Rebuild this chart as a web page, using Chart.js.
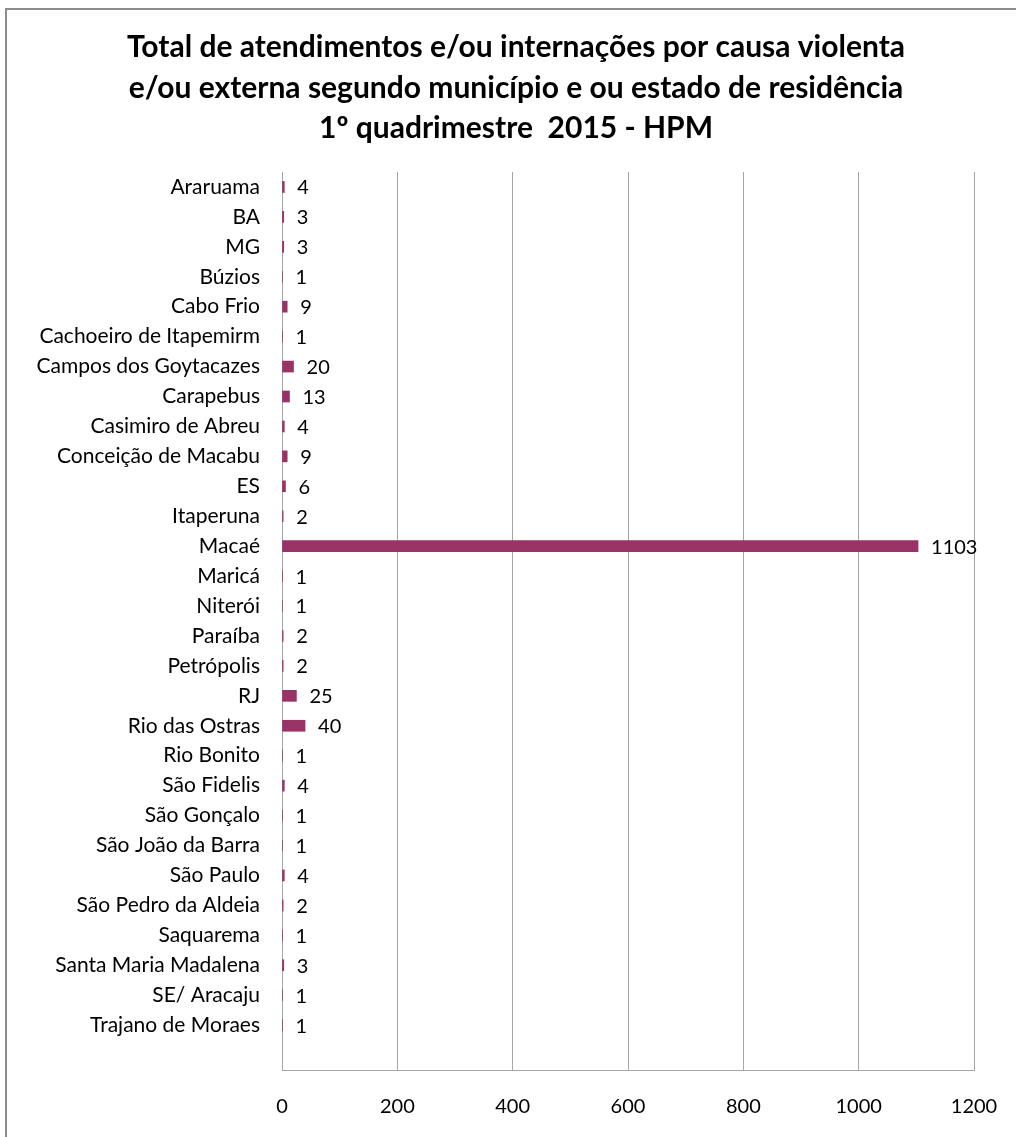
<!DOCTYPE html>
<html>
<head>
<meta charset="utf-8">
<script src="https://cdn.jsdelivr.net/npm/chart.js@4/dist/chart.umd.min.js"></script>
<style>
  html, body { margin: 0; padding: 0; background: #fff; overflow: hidden; }
  #frame { position: absolute; left: 5px; top: 8px; width: 1100px; height: 1200px;
           border-left: 2px solid #8c8c8c; border-top: 2px solid #8c8c8c; }
  #wrap { position: absolute; left: 0; top: 0; width: 1016px; height: 1137px; }
</style>
</head>
<body>
<div id="frame"></div>
<div id="wrap"><canvas id="c" width="1016" height="1137"></canvas></div>
<script>
const titleLines = [
  'Total de atendimentos e/ou internações por causa violenta',
  'e/ou externa segundo município e ou estado de residência',
  '1º quadrimestre  2015 - HPM'
];
const categories = [
  'Araruama', 'BA', 'MG', 'Búzios', 'Cabo Frio', 'Cachoeiro de Itapemirm',
  'Campos dos Goytacazes', 'Carapebus', 'Casimiro de Abreu', 'Conceição de Macabu',
  'ES', 'Itaperuna', 'Macaé', 'Maricá', 'Niterói', 'Paraíba', 'Petrópolis', 'RJ',
  'Rio das Ostras', 'Rio Bonito', 'São Fidelis', 'São Gonçalo', 'São João da Barra',
  'São Paulo', 'São Pedro da Aldeia', 'Saquarema', 'Santa Maria Madalena',
  'SE/ Aracaju', 'Trajano de Moraes'
];
const values = [
  4, 3, 3, 1, 9, 1,
  20, 13, 4, 9,
  6, 2, 1103, 1, 1, 2, 2, 25,
  40, 1, 4, 1, 1,
  4, 2, 1, 3,
  1, 1
];
const xTicks = [0, 200, 400, 600, 800, 1000, 1200];

// trailing empty slot (Excel leaves an empty band at the bottom)
const labels = categories.concat(['']);
const data = values.concat([null]);

const FONT = 'Lato, "Open Sans", sans-serif';

const titlePlugin = {
  id: 'titleLines',
  afterDraw(chart) {
    const ctx = chart.ctx;
    ctx.save();
    ctx.fillStyle = '#000';
    ctx.font = 'bold 30px ' + FONT;
    ctx.textAlign = 'center';
    ctx.textBaseline = 'middle';
    const ys = [47, 88, 128];
    titleLines.forEach((t, i) => ctx.fillText(t, 516, ys[i]));
    ctx.restore();
  }
};

const valueLabels = {
  id: 'valueLabels',
  afterDatasetsDraw(chart) {
    const ctx = chart.ctx;
    const meta = chart.getDatasetMeta(0);
    ctx.save();
    ctx.fillStyle = '#000';
    ctx.font = '20px ' + FONT;
    ctx.textAlign = 'left';
    ctx.textBaseline = 'middle';
    meta.data.forEach((bar, i) => {
      const v = chart.data.datasets[0].data[i];
      if (v === null || v === undefined) return;
      ctx.fillText(String(v), bar.x + 13, bar.y + 1);
    });
    ctx.restore();
  }
};

new Chart(document.getElementById('c'), {
  type: 'bar',
  data: {
    labels: labels,
    datasets: [{
      data: data,
      backgroundColor: '#993366',
      borderWidth: 0,
      barThickness: 11
    }]
  },
  options: {
    indexAxis: 'y',
    responsive: false,
    animation: false,
    events: [],
    layout: { padding: { top: 172, right: 42, bottom: 0, left: 0 } },
    plugins: {
      legend: { display: false },
      title: { display: false },
      tooltip: { enabled: false }
    },
    scales: {
      x: {
        type: 'linear',
        min: 0,
        max: 1200,
        afterBuildTicks(scale) { scale.ticks = xTicks.map(v => ({ value: v })); },
        afterFit(scale) { scale.height = 67; scale.paddingRight = 0; scale.paddingLeft = 0; },
        grid: { color: '#a6a6a6', lineWidth: 1, drawTicks: false },
        border: { color: '#a6a6a6', width: 1 },
        ticks: { color: '#000', font: { size: 20, family: FONT }, padding: 25,
                 callback: v => String(v) }
      },
      y: {
        type: 'category',
        afterFit(scale) { scale.width = 282; scale.paddingTop = 0; scale.paddingBottom = 0; },
        grid: { display: false, drawTicks: false },
        border: { color: '#a6a6a6', width: 1 },
        ticks: { color: '#000', font: { size: 21, family: FONT }, padding: 22, autoSkip: false }
      }
    }
  },
  plugins: [titlePlugin, valueLabels]
});
</script>
</body>
</html>
